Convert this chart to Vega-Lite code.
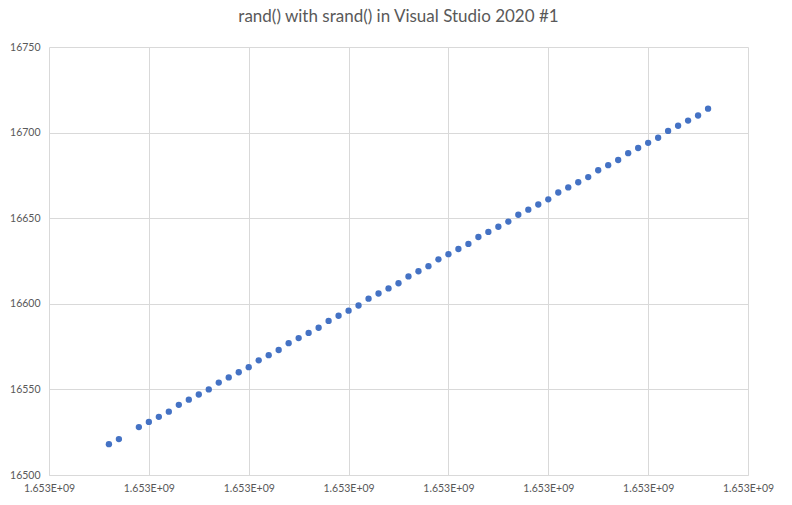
{
  "$schema": "https://vega.github.io/schema/vega-lite/v6.json",
  "width": 699,
  "height": 428,
  "autosize": "none",
  "padding": {"left": 49, "top": 47, "right": 44, "bottom": 30},
  "background": "white",
  "config": {
    "view": {"stroke": null},
    "font": "Lato",
    "axis": {
      "gridColor": "#d9d9d9",
      "gridWidth": 1,
      "ticks": false,
      "labelColor": "#595959",
      "labelFont": "Lato",
      "labelFontSize": 10.5,
      "title": null
    }
  },
  "title": {
    "text": "rand() with srand() in Visual Studio 2020 #1",
    "fontSize": 17,
    "font": "Lato",
    "fontWeight": "normal",
    "color": "#595959",
    "anchor": "middle",
    "offset": 16
  },
  "data": {
    "values": [
      {"t": 1653040006, "r": 16518},
      {"t": 1653040007, "r": 16521},
      {"t": 1653040009, "r": 16528},
      {"t": 1653040010, "r": 16531},
      {"t": 1653040011, "r": 16534},
      {"t": 1653040012, "r": 16537},
      {"t": 1653040013, "r": 16541},
      {"t": 1653040014, "r": 16544},
      {"t": 1653040015, "r": 16547},
      {"t": 1653040016, "r": 16550},
      {"t": 1653040017, "r": 16554},
      {"t": 1653040018, "r": 16557},
      {"t": 1653040019, "r": 16560},
      {"t": 1653040020, "r": 16563},
      {"t": 1653040021, "r": 16567},
      {"t": 1653040022, "r": 16570},
      {"t": 1653040023, "r": 16573},
      {"t": 1653040024, "r": 16577},
      {"t": 1653040025, "r": 16580},
      {"t": 1653040026, "r": 16583},
      {"t": 1653040027, "r": 16586},
      {"t": 1653040028, "r": 16590},
      {"t": 1653040029, "r": 16593},
      {"t": 1653040030, "r": 16596},
      {"t": 1653040031, "r": 16599},
      {"t": 1653040032, "r": 16603},
      {"t": 1653040033, "r": 16606},
      {"t": 1653040034, "r": 16609},
      {"t": 1653040035, "r": 16612},
      {"t": 1653040036, "r": 16616},
      {"t": 1653040037, "r": 16619},
      {"t": 1653040038, "r": 16622},
      {"t": 1653040039, "r": 16626},
      {"t": 1653040040, "r": 16629},
      {"t": 1653040041, "r": 16632},
      {"t": 1653040042, "r": 16635},
      {"t": 1653040043, "r": 16639},
      {"t": 1653040044, "r": 16642},
      {"t": 1653040045, "r": 16645},
      {"t": 1653040046, "r": 16648},
      {"t": 1653040047, "r": 16652},
      {"t": 1653040048, "r": 16655},
      {"t": 1653040049, "r": 16658},
      {"t": 1653040050, "r": 16661},
      {"t": 1653040051, "r": 16665},
      {"t": 1653040052, "r": 16668},
      {"t": 1653040053, "r": 16671},
      {"t": 1653040054, "r": 16674},
      {"t": 1653040055, "r": 16678},
      {"t": 1653040056, "r": 16681},
      {"t": 1653040057, "r": 16684},
      {"t": 1653040058, "r": 16688},
      {"t": 1653040059, "r": 16691},
      {"t": 1653040060, "r": 16694},
      {"t": 1653040061, "r": 16697},
      {"t": 1653040062, "r": 16701},
      {"t": 1653040063, "r": 16704},
      {"t": 1653040064, "r": 16707},
      {"t": 1653040065, "r": 16710},
      {"t": 1653040066, "r": 16714}
    ]
  },
  "mark": {"type": "circle", "size": 40, "opacity": 1, "color": "#4472c4"},
  "encoding": {
    "x": {
      "field": "t",
      "type": "quantitative",
      "scale": {"domain": [1653040000, 1653040070], "nice": false, "zero": false},
      "axis": {
        "values": [1653040000, 1653040010, 1653040020, 1653040030, 1653040040, 1653040050, 1653040060, 1653040070],
        "labelExpr": "upper(replace(format(datum.value, '.3e'), 'e+', 'e+0'))",
        "domainColor": "#d9d9d9",
        "labelPadding": 8,
        "labelFlush": false
      }
    },
    "y": {
      "field": "r",
      "type": "quantitative",
      "scale": {"domain": [16500, 16750], "nice": false, "zero": false},
      "axis": {
        "values": [16500, 16550, 16600, 16650, 16700, 16750],
        "format": "d",
        "domain": false,
        "labelPadding": 9,
        "labelFlush": false
      }
    }
  }
}
